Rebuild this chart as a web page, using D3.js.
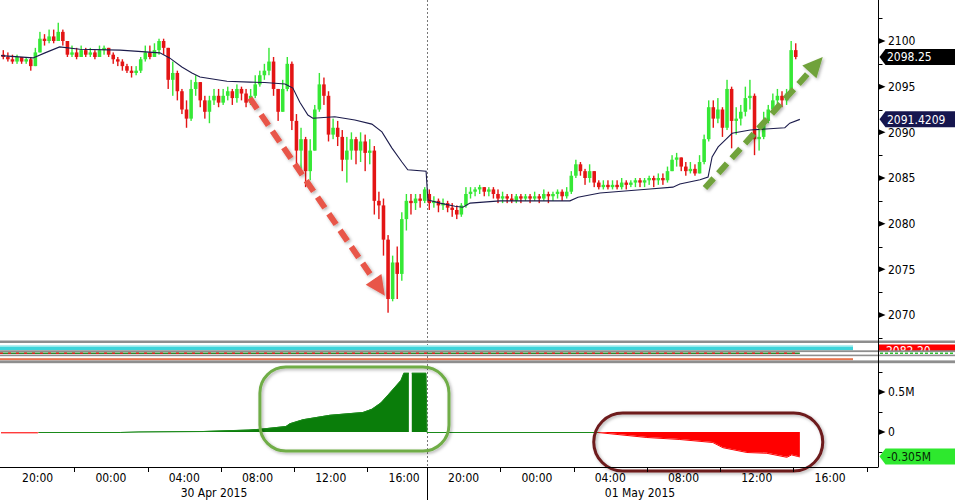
<!DOCTYPE html>
<html><head><meta charset="utf-8">
<script src="https://cdn.jsdelivr.net/npm/d3@7/dist/d3.min.js"></script>
<style>
html,body{margin:0;padding:0;background:#fff;overflow:hidden;}
svg{display:block;font-family:"DejaVu Sans Condensed","Liberation Sans",sans-serif;}
</style></head><body>
<svg id="c" width="955" height="500"></svg>
<script>
// ---------------- DATA ----------------
// 15-minute bars [open, high, low, close]; session 1 starts 29 Apr 18:00, session 2 starts 30 Apr 18:00
const session1Bars = [
[2098.5,2099,2098,2098.25],[2098.25,2098.75,2097.75,2098],[2098,2098.5,2097.5,2097.75],[2097.75,2098.5,2097.5,2098.25],
[2098.25,2098.25,2097.5,2097.75],[2097.75,2098.25,2097.5,2098],[2098,2098.25,2096.75,2097.25],[2097.25,2099.25,2097.25,2098.75],
[2098.75,2101,2098.75,2100.25],[2100.25,2100.75,2099.5,2100],[2100,2101.25,2099.75,2100.5],[2100.5,2101.25,2099.75,2100],
[2100,2102,2100,2101],[2101,2101.25,2099.5,2100],[2100,2100,2098.25,2098.5],[2098.5,2099.5,2098.25,2098.75],
[2098.75,2099.25,2098,2098.25],[2098.25,2099.5,2098.25,2099],[2099,2099.25,2098.25,2098.5],[2098.5,2099.25,2098.25,2098.75],
[2098.75,2099,2098,2098.25],[2098.25,2099.5,2098.25,2099],[2099,2099.5,2098.5,2099.25],[2099.25,2099.25,2098.25,2098.5],
[2098.5,2098.75,2097.5,2098],[2098,2098.25,2097.25,2097.75],[2097.75,2098,2096.75,2097.25],[2097.25,2097.5,2096.5,2096.75],
[2096.75,2097.25,2096,2096.5],[2096.5,2097.25,2096.25,2096.75],[2096.75,2098.25,2096.5,2098],[2098,2099.5,2097.75,2098.75],
[2098.75,2099.5,2098,2098.25],[2098.25,2099.75,2098.25,2099],[2099,2100.25,2098.5,2100],[2100,2100.25,2098.5,2099.25],
[2099.25,2099.25,2094.75,2095.75],[2095.75,2097.75,2094,2096.5],[2096.5,2096.75,2093.5,2094.5],[2094.5,2094.75,2092,2092.5],
[2092.5,2093.5,2090.5,2091.5],[2091.5,2095.75,2091.25,2094.75],[2094.75,2096.25,2094,2095.5],[2095.5,2095.5,2092.75,2093.5],
[2093.5,2094,2091.5,2092.25],[2092.25,2094,2091,2093.5],[2093.5,2094.75,2093,2094],[2094,2094.75,2092.75,2093.25],
[2093.25,2094.75,2093,2094],[2094,2095,2093.5,2094.5],[2094.5,2094.75,2093,2093.75],[2093.75,2095.25,2093.25,2094.75],
[2094.75,2095,2093.5,2094.25],[2094.25,2094.75,2092.75,2093.25],[2093.25,2094.75,2093,2094],[2094,2096.25,2093.75,2095.25],
[2095.25,2096.75,2095,2096.25],[2096.25,2097.5,2095.75,2096.75],[2096.75,2099.25,2096.25,2097.75],[2097.75,2098.25,2094,2094.75],
[2094.75,2094.75,2091.25,2092.25],[2092.25,2095.75,2092.25,2094.75],[2094.75,2098.25,2094.5,2097.5],[2097.5,2097.75,2090.25,2091.25],
[2091.25,2092,2086.25,2088],[2088,2090.5,2086,2089.25],[2089.25,2089.5,2084,2085.75],[2085.75,2089.25,2084.75,2088],
[2088,2093,2088,2092.5],[2092.5,2096.5,2092.25,2095.25],[2095.25,2096,2093,2094],[2094,2094.5,2089,2089.75],
[2089.75,2091.5,2089.25,2090.5],[2090.5,2091.25,2088.5,2089.5],[2089.5,2090.25,2085.75,2087],[2087,2089.5,2084.5,2088],
[2088,2090,2087,2089.25],[2089.25,2089.5,2086.5,2088],[2088,2090,2086.75,2089],[2089,2089.75,2085.75,2087.75],
[2087.75,2089.25,2086.5,2088],[2088,2088.5,2081,2082.5],[2082.5,2083.5,2080.5,2082],[2082,2082.75,2076.5,2078.25],
[2078.25,2078.75,2070.25,2071.75],[2071.75,2076.5,2071.5,2075.75],[2075.75,2077.5,2071.75,2074.5],[2074.5,2081.25,2073.75,2080.5],
[2080.5,2083.25,2079.25,2082.5],[2082.5,2083.25,2081,2082.25],[2082.25,2083.25,2081.5,2082.75],[2082.75,2083.25,2081.75,2082.5],
[2082.5,2084,2082.25,2083.75]
];
const session2Bars = [
[2083.25,2083.75,2081.5,2082.25],[2082.25,2083,2081.75,2082.5],[2082.5,2082.75,2081.25,2082],[2082,2082.75,2081.5,2082.25],
[2082.25,2082.5,2081.25,2081.75],[2081.75,2082.25,2080.75,2081.5],[2081.5,2082,2080.5,2081],[2081,2082.25,2080.75,2082],
[2082,2084,2081.75,2083.25],[2083.25,2084,2082.75,2083.5],[2083.5,2084,2083,2083.75],[2083.75,2084.25,2083.25,2084],
[2084,2084,2083,2083.5],[2083.5,2084,2083,2083.75],[2083.75,2084,2082.75,2083.25],[2083.25,2083.75,2082.25,2082.75],
[2082.75,2083.5,2082.25,2083],[2083,2083.25,2082.25,2082.75],[2082.75,2083.25,2082.25,2082.5],[2082.5,2083.25,2082.25,2083],
[2083,2083.25,2082.25,2082.75],[2082.75,2083.25,2082.5,2083],[2083,2083.25,2082.25,2082.75],[2082.75,2083.5,2082.5,2083],
[2083,2083.25,2082.25,2082.75],[2082.75,2083.75,2082.5,2083.25],[2083.25,2083.5,2082.25,2083],[2083,2083.5,2082.5,2083.25],
[2083.25,2083.75,2082.75,2083.5],[2083.5,2083.75,2082.5,2083],[2083,2084,2082.75,2083.5],[2083.5,2085.75,2083.25,2085.25],
[2085.25,2087,2085,2086.5],[2086.5,2086.75,2085.25,2085.75],[2085.75,2086,2084.25,2085],[2085,2086.5,2084.5,2085.75],
[2085.75,2085.75,2084,2084.5],[2084.5,2084.75,2083.75,2084],[2084,2084.75,2083.75,2084.25],[2084.25,2084.75,2083.75,2084],
[2084,2084.75,2083.75,2084.25],[2084.25,2084.75,2083.75,2084],[2084,2085,2083.75,2084.5],[2084.5,2084.75,2083.75,2084.25],
[2084.25,2084.75,2084,2084.5],[2084.5,2085,2084,2084.75],[2084.75,2085,2084,2084.5],[2084.5,2085,2084,2084.75],
[2084.75,2085.25,2084.25,2085],[2085,2085.25,2084,2084.75],[2084.75,2085.5,2084.25,2085],[2085,2085.5,2084.25,2084.75],
[2084.75,2086.25,2084.5,2085.75],[2085.75,2087.5,2085.75,2087],[2087,2087.75,2086.25,2087.25],[2087.25,2087.25,2085.75,2086.25],
[2086.25,2086.75,2085.25,2085.75],[2085.75,2086.75,2085.5,2086],[2086,2086.5,2085.25,2085.5],[2085.5,2087.5,2085.5,2086.75],
[2086.75,2089.75,2086.5,2089.25],[2089.25,2093.5,2089,2092.75],[2092.75,2093.5,2090.5,2091.5],[2091.5,2093.75,2091,2092.5],
[2092.5,2092.75,2089.5,2090.5],[2090.5,2095.75,2090.25,2094.75],[2094.75,2095,2088.25,2091.25],[2091.25,2092.75,2089.75,2091.5],
[2091.5,2093,2090.75,2092.25],[2092.25,2095,2091.75,2093.75],[2093.75,2095.75,2092.5,2094],[2094,2094.25,2087.5,2089.25],
[2089.25,2090.75,2088,2089.5],[2089.5,2092.25,2089.25,2091.25],[2091.25,2093,2091,2092.5],[2092.5,2094.25,2092.25,2093.5],
[2093.5,2094.75,2092.75,2094],[2094,2094.5,2092.75,2093.5],[2093.5,2094.75,2093,2094.25],[2094.25,2100,2094,2099],
[2099,2099.75,2098,2098.25]
];
// time in hours counted from 29 Apr 2015 00:00
const sessionStarts = [18, 42];
const sessionEnds = [41.25, 65.25];
const barHours = 0.25;

const vwapHours = [18,19.75,20.4,21.2,22.3,24.5,26.67,27.2,27.87,28.42,28.86,30.33,31.58,32.4,33.5,33.93,34.31,34.75,35.02,36.22,37.31,38.24,38.79,39.33,39.88,40.2,41.2,
  42.05,42.71,43.53,43.96,44.35,45.98,49.8,50.24,51.44,54.17,55.42,55.8,56.9,57.34,57.56,57.89,58.27,58.65,59.64,61.53,61.8,62.35];
const vwapValues = [2098.4,2098.15,2098.7,2099.35,2099.1,2099.0,2098.7,2098.15,2097.15,2096.5,2096.05,2095.6,2095.5,2095.45,2095.3,2094.85,2093.3,2091.9,2091.55,2091.7,2091.35,2090.9,2090.05,2088.3,2086.75,2085.9,2085.75,
  2082.6,2082.25,2081.9,2081.8,2082.25,2082.5,2082.5,2082.9,2083.35,2083.8,2084.0,2084.35,2084.8,2085.1,2087.3,2088.4,2089.15,2089.9,2090.25,2090.5,2091.0,2091.42];

const flowHours = [18,20,20.05,24.5,25.53,29.02,31.53,32.13,33.55,33.77,34.48,35.95,37.75,38.24,38.73,39.17,39.82,39.98,40.26,40.3,40.38,40.42,41.2,
  42,51.33,54.0,55.8,57.6,58.15,59.46,60.55,61.64,61.9,62.24,62.35];
const flowValues = [-0.004,-0.004,0,0,0.005,0.012,0.03,0.04,0.075,0.11,0.16,0.215,0.25,0.29,0.37,0.48,0.65,0.74,0.74,null,null,0.74,0.74,
  0,0,-0.0625,-0.0875,-0.125,-0.19,-0.25,-0.26,-0.31,-0.28,-0.3,-0.305];

const priceTicks = [2070,2075,2080,2085,2090,2095,2100];
const priceMinorTicks = [2067.5,2072.5,2077.5,2082.5,2087.5,2092.5,2097.5,2102.5];
const flowTicks = [0,0.5];
const flowTickLabels = ["0","0.5M"];
const flowMinorTicks = [-0.25,0.25,0.75];
const timeLabelHours = [20,24,28,32,36,40,44,48,52,56,60,64];
const timeLabels = ["20:00","00:00","04:00","08:00","12:00","16:00","20:00","00:00","04:00","08:00","12:00","16:00"];
const timeTickHours = [22,26,30,34,38,46,50,54,58,62,66];
const dateLabels = ["30 Apr 2015","01 May 2015"];
const lastPrice = 2098.25, lastPriceText = "2098.25";
const lastVwap = 2091.4209, lastVwapText = "2091.4209";
const lastFlow = -0.305, lastFlowText = "-0.305M";
const hiddenStudyText = "2082.20";
// annotations in data coordinates [hour, value]
const sellArrow = [[31.58,2093.75],[38.95,2072.1]];
const buyArrow = [[57.17,2083.9],[63.6,2098.25]];
const buyBox = [[32.13,0.8125],[43.2,-0.2375]];
const sellBox = [[51.1,0.2375],[63.6,-0.4875]];

// ---------------- CHART ----------------
const svg = d3.select("#c");
const AX = 878.5;
const x = d3.scaleLinear().domain([18,41.25,42,65.25]).range([1,427,427,853]);
const y = d3.scaleLinear().domain([2070,2100]).range([315,41]);
const yF = d3.scaleLinear().domain([-0.5,0.5]).range([472,392]);

const defs = svg.append("defs");
const f = defs.append("filter").attr("id","sh").attr("x","-20%").attr("y","-20%").attr("width","140%").attr("height","140%");
f.append("feDropShadow").attr("dx",1.5).attr("dy",1.5).attr("stdDeviation",1.4).attr("flood-color","#000").attr("flood-opacity",0.3);
defs.append("clipPath").attr("id","mainClip").append("rect").attr("x",0).attr("y",0).attr("width",AX).attr("height",339);
defs.append("clipPath").attr("id","redBoxClip").append("rect").attr("x",879).attr("y",344.5).attr("width",76).attr("height",6.5);

// divider (session break)
svg.append("line").attr("x1",x(42)+0.5).attr("x2",x(42)+0.5).attr("y1",0).attr("y2",467)
  .attr("stroke","#777").attr("stroke-width",1).attr("stroke-dasharray","2,2");

// candles
const bars = [];
session1Bars.forEach((b,i)=>bars.push({t:sessionStarts[0]+(i+0.5)*barHours,o:b[0],h:b[1],l:b[2],c:b[3]}));
session2Bars.forEach((b,i)=>bars.push({t:sessionStarts[1]+(i+0.5)*barHours,o:b[0],h:b[1],l:b[2],c:b[3]}));
const bw = (x(18+barHours)-x(18))*0.78;
const up = "#36e836", dn = "#e31515";
const gMain = svg.append("g").attr("clip-path","url(#mainClip)");
const cg = gMain.selectAll("g.c").data(bars).join("g");
cg.append("rect").attr("x",d=>x(d.t)-0.7).attr("width",1.4)
  .attr("y",d=>y(d.h)).attr("height",d=>Math.max(1,y(d.l)-y(d.h)))
  .attr("fill",d=>d.c>=d.o?up:dn);
cg.append("rect").attr("x",d=>x(d.t)-bw/2).attr("width",bw)
  .attr("y",d=>y(Math.max(d.o,d.c))).attr("height",d=>Math.max(1,Math.abs(y(d.o)-y(d.c))))
  .attr("fill",d=>d.c>=d.o?up:dn);

// vwap
const vw = vwapHours.map((h,i)=>[h,vwapValues[i]]);
gMain.append("path").attr("d",d3.line().x(d=>x(d[0])).y(d=>y(d[1]))(vw))
  .attr("fill","none").attr("stroke","#1c1c4c").attr("stroke-width",1.1);

// arrows
function arrow(pts,color){
  const p1=[x(pts[0][0]),y(pts[0][1])], p2=[x(pts[1][0]),y(pts[1][1])];
  const dx=p2[0]-p1[0], dy=p2[1]-p1[1], L=Math.hypot(dx,dy), ux=dx/L, uy=dy/L, nx=-uy, ny=ux;
  const hl=20, hw=9.5;
  const g=svg.append("g").attr("filter","url(#sh)");
  g.append("line").attr("x1",p1[0]).attr("y1",p1[1]).attr("x2",p2[0]-ux*hl*0.9).attr("y2",p2[1]-uy*hl*0.9)
    .attr("stroke",color).attr("stroke-width",6).attr("stroke-dasharray","13,7");
  const bx=p2[0]-ux*hl, by=p2[1]-uy*hl;
  g.append("polygon").attr("points",[[p2[0],p2[1]],[bx+nx*hw,by+ny*hw],[bx-nx*hw,by-ny*hw]].map(p=>p.join(",")).join(" "))
    .attr("fill",color);
}
arrow(sellArrow,"#e8574a");
arrow(buyArrow,"#6fa23a");

// lower panel: cumulative flow
const fl = flowHours.map((h,i)=>({h,v:flowValues[i]}));
const gLow = svg.append("g");
gLow.append("path").attr("d",d3.area().defined(d=>d.v!==null).x(d=>x(d.h)).y0(yF(0)).y1(d=>yF(Math.max(0,d.v)))(fl))
  .attr("fill","#0a7d0a");
gLow.append("path").attr("d",d3.area().defined(d=>d.v!==null).x(d=>x(d.h)).y0(yF(0)).y1(d=>yF(Math.min(0,d.v)))(fl))
  .attr("fill","#ff0000");
for(let i=0;i<fl.length-1;i++){
  const a=fl[i], b=fl[i+1];
  if(a.v===null||b.v===null) continue;
  const m=(a.v+b.v)/2;
  gLow.append("line").attr("x1",x(a.h)).attr("x2",x(b.h)).attr("y1",yF(a.v)+0.5).attr("y2",yF(b.v)+0.5)
    .attr("stroke",m<0?"#ff0000":"#1a8a1a").attr("stroke-width",1);
}

// rounded boxes
function box(b,color,r){
  const x0=x(b[0][0]), x1=x(b[1][0]), y0=yF(b[0][1]), y1=yF(b[1][1]);
  svg.append("rect").attr("x",x0).attr("y",y0).attr("width",x1-x0).attr("height",y1-y0)
    .attr("rx",r).attr("ry",r).attr("fill","none").attr("stroke",color).attr("stroke-width",3).attr("filter","url(#sh)");
}
box(buyBox,"#70ad47",26);
box(sellBox,"#6d1a1d",29);

// study band between panels
const band = svg.append("g");
function strip(x0,y0,w,h,c){band.append("rect").attr("x",x0).attr("y",y0).attr("width",w).attr("height",h).attr("fill",c);}
strip(0,340.5,955,2.5,"#8e8e8e");
strip(0,345,x(65.25),1.6,"#b4f1f2");
strip(0,346.6,x(65.25),3.6,"#3fd4da");
strip(879,344.5,76,6.5,"#ff0000");
band.append("text").attr("x",886).attr("y",355).attr("fill","#fff").attr("font-size",12)
  .attr("clip-path","url(#redBoxClip)").text(hiddenStudyText);
strip(0,350.3,955,1.8,"#8e8e8e");
band.append("line").attr("x1",0).attr("x2",x(62.35)).attr("y1",353.2).attr("y2",353.2).attr("stroke","#2e8b2e").attr("stroke-width",1.6);
band.append("line").attr("x1",0).attr("x2",x(62.35)).attr("y1",353.2).attr("y2",353.2).attr("stroke","#e02020").attr("stroke-width",1.6).attr("stroke-dasharray","3,5");
band.append("line").attr("x1",880).attr("x2",955).attr("y1",353.2).attr("y2",353.2).attr("stroke","#30c030").attr("stroke-width",1.6).attr("stroke-dasharray","3,2");
strip(0,354.6,955,1.6,"#8e8e8e");
strip(0,358.2,x(65.25),2,"#e6734c");
strip(0,360.4,955,2.8,"#8e8e8e");

// right axis
const ax = svg.append("g");
ax.append("line").attr("x1",AX).attr("x2",AX).attr("y1",0).attr("y2",467).attr("stroke","#000").attr("stroke-width",1);
function tri(yy){ax.append("polygon").attr("points",`${AX},${yy-3} ${AX+7},${yy} ${AX},${yy+3}`).attr("fill","#000");}
function minor(yy){ax.append("line").attr("x1",AX).attr("x2",AX+4).attr("y1",yy).attr("y2",yy).attr("stroke","#000");}
priceTicks.forEach(v=>{
  tri(y(v));
  ax.append("text").attr("x",888).attr("y",y(v)).attr("dy","0.36em").attr("font-size",12).attr("fill","#000").text(v);
});
priceMinorTicks.forEach(v=>minor(Math.round(y(v))+0.5));
flowTicks.forEach((v,i)=>{
  tri(yF(v));
  ax.append("text").attr("x",888).attr("y",yF(v)).attr("dy","0.36em").attr("font-size",12).attr("fill","#000").text(flowTickLabels[i]);
});
flowMinorTicks.forEach(v=>minor(Math.round(yF(v))+0.5));

function tag(yy,bg,fg,txt){
  ax.append("polygon").attr("points",`${AX+1},${yy} ${AX+7},${yy-8} 955,${yy-8} 955,${yy+8} ${AX+7},${yy+8}`).attr("fill",bg);
  ax.append("text").attr("x",887).attr("y",yy).attr("dy","0.36em").attr("font-size",12).attr("fill",fg).text(txt);
}
tag(y(lastPrice),"#000","#fff",lastPriceText);
tag(y(lastVwap),"#16164e","#fff",lastVwapText);
tag(yF(lastFlow),"#2ee82e","#062806",lastFlowText);

// x axis
const xa = svg.append("g");
xa.append("line").attr("x1",0).attr("x2",AX).attr("y1",467.5).attr("y2",467.5).attr("stroke","#000");
xa.append("line").attr("x1",x(42)+0.5).attr("x2",x(42)+0.5).attr("y1",467).attr("y2",500).attr("stroke","#000");
timeTickHours.forEach(h=>{
  const xx=Math.round(x(h))+0.5;
  xa.append("line").attr("x1",xx).attr("x2",xx).attr("y1",467).attr("y2",472).attr("stroke","#000");
});
timeLabelHours.forEach((h,i)=>{
  xa.append("text").attr("x",x(h)).attr("y",482).attr("text-anchor","middle").attr("font-size",12).attr("fill","#000").text(timeLabels[i]);
});
dateLabels.forEach((t,i)=>{
  xa.append("text").attr("x",(x(sessionStarts[i])+x(sessionEnds[i]))/2).attr("y",497).attr("text-anchor","middle")
    .attr("font-size",12).attr("fill","#000").text(t);
});
</script>
</body></html>
